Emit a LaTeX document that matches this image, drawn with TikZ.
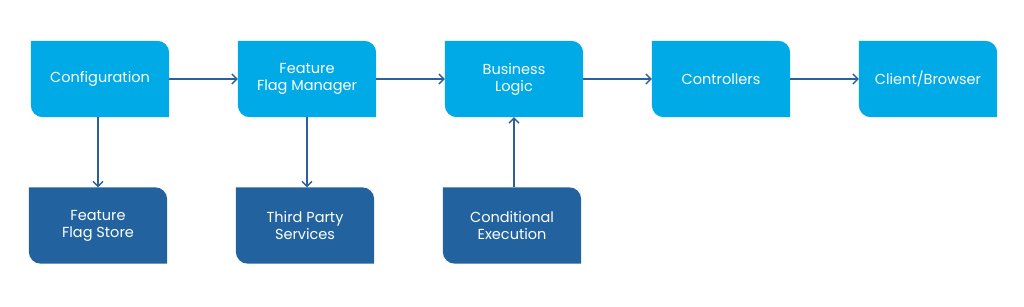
\documentclass[tikz,border=0pt]{standalone}
\usepackage{fontspec}
\setmainfont{Poppins}
\usetikzlibrary{arrows.meta}
\pgfdeclarelayer{background}
\pgfsetlayers{background,main}

\definecolor{flowlight}{HTML}{00AAE6}
\definecolor{flowdark}{HTML}{22639F}
\definecolor{flowline}{HTML}{2B609C}

\tikzset{
  flowbox/.style={minimum width=138pt, minimum height=76pt, inner sep=0pt,
    text=white, align=center, font=\fontsize{14.5}{17}\selectfont},
  flowarrow/.style={-{Straight Barb[length=5pt,width=10pt]}, line width=1.3pt, flowline}
}

% fill a box with rounded top right and bottom left corners
\newcommand{\cornerfill}[2]{%
  \fill[#2] (#1.north west) -- ([xshift=-12pt]#1.north east)
    arc[start angle=90, end angle=0, radius=12pt] -- (#1.south east)
    -- ([xshift=12pt]#1.south west)
    arc[start angle=270, end angle=180, radius=12pt] -- cycle;}

\begin{document}
\begin{tikzpicture}[x=1pt, y=1pt]
        \useasboundingbox (0,0) rectangle (1024,-307);

        % main row
        \node[flowbox] (config) at (100,-79) {Configuration};
        \node[flowbox] (manager) at (307,-79) {Feature\\Flag Manager};
        \node[flowbox] (logic) at (514,-79) {Business\\Logic};
        \node[flowbox] (ctrl) at (721,-79) {Controllers};
        \node[flowbox] (client) at (928,-79) {Client/Browser};

        % lower row
        \node[flowbox] (store) at (98,-225.5) {Feature\\Flag Store};
        \node[flowbox] (third) at (305,-225.5) {Third Party\\Services};
        \node[flowbox] (cond) at (512,-225.5) {Conditional\\Execution};

        % box fills
        \begin{pgfonlayer}{background}
          \foreach \n in {config, manager, logic, ctrl, client}
            \cornerfill{\n}{flowlight};
          \foreach \n in {store, third, cond}
            \cornerfill{\n}{flowdark};
        \end{pgfonlayer}

        % Arrows
        \draw[flowarrow] (config) -- (manager);
        \draw[flowarrow] (manager) -- (logic);
        \draw[flowarrow] (logic) -- (ctrl);
        \draw[flowarrow] (ctrl) -- (client);
        \draw[flowarrow] (store.north |- config.south) -- (store.north);
        \draw[flowarrow] (manager.south) -- (manager.south |- third.north);
        \draw[flowarrow] (cond.north -| logic.south) -- (logic.south);
    \end{tikzpicture}
\end{document}
